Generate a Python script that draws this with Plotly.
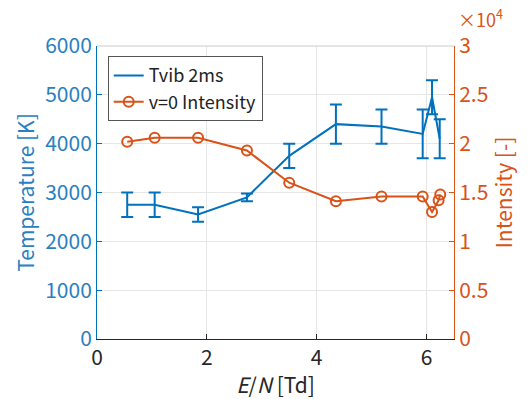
import plotly.graph_objects as go

# Data
en_T = [0.55, 1.05, 1.84, 2.73, 3.5, 4.35, 5.18, 5.93, 6.1, 6.24]
tvib = [2750, 2750, 2550, 2900, 3750, 4400, 4350, 4200, 4950, 4100]
tvib_err = [250, 250, 150, 80, 250, 400, 350, 500, 350, 400]

en_I = [0.55, 1.05, 1.84, 2.73, 3.5, 4.35, 5.18, 5.93, 6.1, 6.22, 6.25]
intensity = [20200, 20600, 20600, 19300, 16000, 14100, 14600, 14600, 13000, 14200, 14800]

x_ticks = [0, 2, 4, 6]
yT_ticks = [0, 1000, 2000, 3000, 4000, 5000, 6000]
yI_ticks = [0, 5000, 10000, 15000, 20000, 25000, 30000]
yI_labels = ["0", "0.5", "1", "1.5", "2", "2.5", "3"]

BLUE = "#0072BD"
ORANGE = "#D95319"
FONT = "Noto Sans CJK JP"

fig = go.Figure()
fig.add_trace(go.Scatter(
    x=en_T, y=tvib, mode="lines", name="Tvib 2ms",
    line=dict(color=BLUE, width=2),
    error_y=dict(type="data", array=tvib_err, visible=True, color=BLUE, thickness=2, width=6),
))
fig.add_trace(go.Scatter(
    x=en_I, y=intensity, mode="lines+markers", name="v=0 Intensity", yaxis="y2",
    line=dict(color=ORANGE, width=2),
    marker=dict(symbol="circle-open", size=10, color=ORANGE, line=dict(width=2, color=ORANGE)),
))

fig.update_layout(
    width=532, height=399,
    margin=dict(l=97, r=78, t=46, b=60),
    paper_bgcolor="white", plot_bgcolor="white",
    font=dict(family=FONT, size=20),
    showlegend=True,
    legend=dict(x=0.03, y=0.965, xanchor="left", yanchor="top",
                bgcolor="white", bordercolor="#555555", borderwidth=1,
                font=dict(size=18, color="#222222"), tracegroupgap=0,
                itemwidth=30),
    xaxis=dict(range=[0, 6.5], tickvals=x_ticks, showgrid=True, gridcolor="#e6e6e6",
               zeroline=False, showline=True, linecolor="#262626", linewidth=1,
               mirror=False, ticks="inside", ticklen=5, tickcolor="#262626",
               tickfont=dict(size=21, color="#262626"),
               title=dict(text="<i>E</i>/<i>N</i> [Td]", font=dict(size=21, color="#262626"), standoff=2)),
    yaxis=dict(range=[0, 6000], tickvals=yT_ticks, showgrid=True, gridcolor="#e6e6e6",
               zeroline=False, showline=True, linecolor=BLUE, linewidth=1,
               ticks="inside", ticklen=5, tickcolor=BLUE,
               tickfont=dict(size=21, color="#2a7fc0"),
               title=dict(text="Temperature [K]", font=dict(size=21, color="#2a7fc0"), standoff=4)),
    yaxis2=dict(range=[0, 30000], tickvals=yI_ticks, ticktext=yI_labels, overlaying="y", side="right",
                showgrid=False, zeroline=False, showline=True, linecolor=ORANGE, linewidth=1,
                ticks="inside", ticklen=5, tickcolor=ORANGE,
                tickfont=dict(size=21, color=ORANGE),
                title=dict(text="Intensity [-]", font=dict(size=21, color=ORANGE), standoff=6)),
    shapes=[dict(type="line", xref="paper", yref="paper", x0=0, x1=1, y0=1, y1=1,
                 line=dict(color="#cccccc", width=1))],
    annotations=[dict(text="×10<sup>4</sup>", xref="paper", yref="paper", x=1.0, y=1.0,
                      xanchor="left", yanchor="bottom", showarrow=False,
                      font=dict(size=18, color=ORANGE), xshift=2, yshift=12)],
)

fig.write_html("out.html")
